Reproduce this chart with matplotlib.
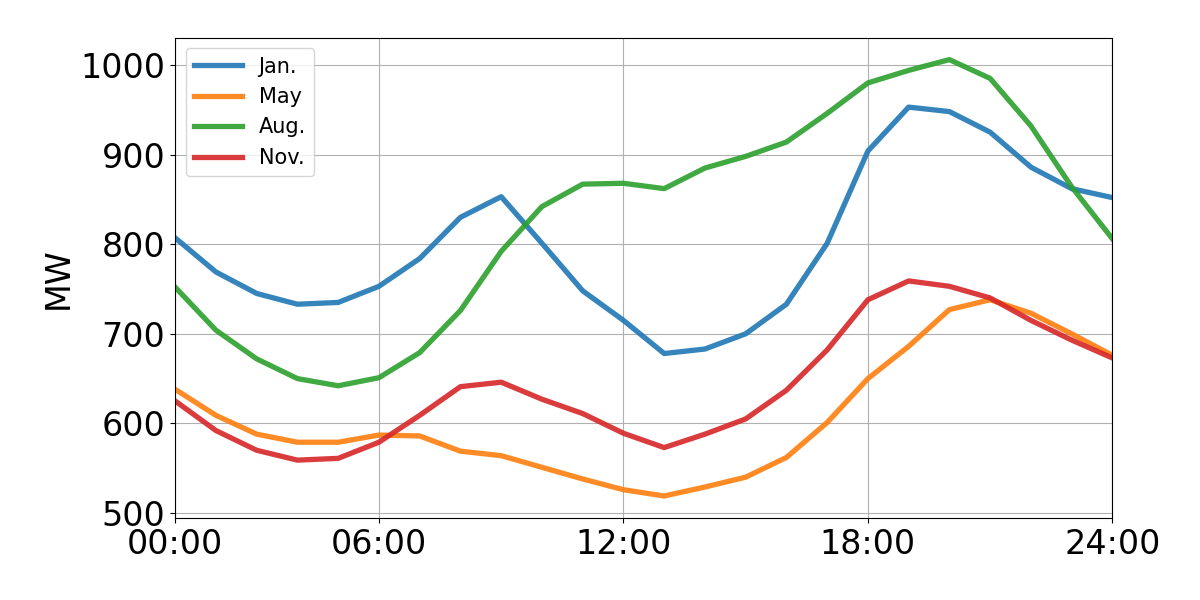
import matplotlib
matplotlib.use('Agg')
import matplotlib.pyplot as plt
import numpy as np

# hourly load profiles (24 samples), MW
months = ['Jan.', 'May', 'Aug.', 'Nov.']
jan = [807, 769, 745, 733, 735, 753, 784, 830, 853, 801, 748, 715,
       678, 683, 700, 733, 801, 904, 953, 948, 925, 886, 862, 852]
may = [638, 609, 588, 579, 579, 587, 586, 569, 564, 551, 538, 526,
       519, 529, 540, 562, 601, 650, 686, 727, 738, 723, 700, 676]
aug = [752, 704, 672, 650, 642, 651, 679, 726, 792, 842, 867, 868,
       862, 885, 898, 914, 946, 980, 994, 1006, 985, 932, 864, 806]
nov = [625, 592, 570, 559, 561, 579, 609, 641, 646, 627, 611, 589,
       573, 588, 605, 637, 682, 738, 759, 753, 740, 715, 693, 673]
tick_pos = [0, 5, 11, 17, 23]
tick_labels = ['00:00', '06:00', '12:00', '18:00', '24:00']

fig, ax = plt.subplots(figsize=(12, 6), dpi=100)
fig.subplots_adjust(left=0.146, right=0.927, top=0.937, bottom=0.137)

x = np.arange(len(jan))
for series, label in zip([jan, may, aug, nov], months):
    ax.plot(x, series, linewidth=3.8, alpha=0.9, label=label)

ax.set_xlim(x[0], x[-1])
ax.set_xticks(tick_pos)
ax.set_xticklabels(tick_labels)
ax.set_yticks([500, 600, 700, 800, 900, 1000])
ax.tick_params(labelsize=24)
ax.set_ylabel('MW', fontsize=24)
ax.grid(True)
ax.legend(loc='upper left', fontsize=15, handlelength=2.3)

plt.savefig('out.png', dpi=100)
